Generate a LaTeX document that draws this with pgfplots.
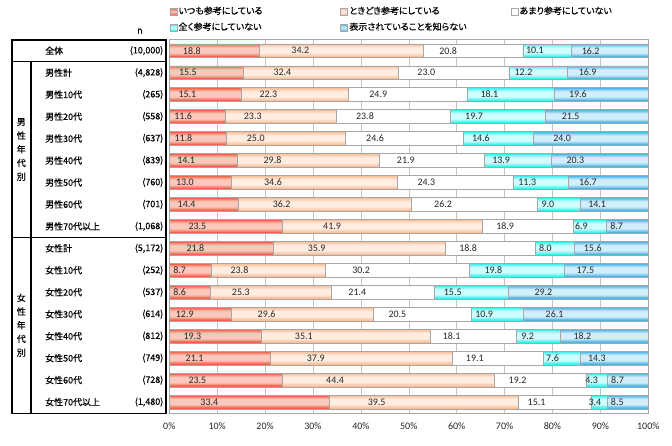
\documentclass[border=0pt]{standalone}
\usepackage{pgfplots}
\pgfplotsset{compat=1.18}
\usepackage{pgfplotstable}
\usepackage{fontspec}
\setmainfont{Carlito}
\newfontfamily\jp[FakeBold=0.5]{Noto Sans CJK JP}
\newfontfamily\jpp[RawFeature=+palt,FakeBold=0.4]{Noto Sans CJK JP}
\definecolor{redE}{HTML}{EE6445}
\definecolor{redM}{HTML}{FAC8BC}
\definecolor{pchE}{HTML}{F9C09A}
\definecolor{pchM}{HTML}{FFEDE1}
\definecolor{cyE}{HTML}{3EEEF2}
\definecolor{cyM}{HTML}{CFFEFE}
\definecolor{blE}{HTML}{4AB6EA}
\definecolor{blM}{HTML}{D3EEFB}
\definecolor{brd}{HTML}{A6A6A6}
\definecolor{grd}{HTML}{C4C4C4}
\definecolor{txt}{HTML}{262626}

\pgfplotstableread{
row a b c d e
0 18.8 34.2 20.8 10.1 16.2
1 15.5 32.4 23.0 12.2 16.9
2 15.1 22.3 24.9 18.1 19.6
3 11.6 23.3 23.8 19.7 21.5
4 11.8 25.0 24.6 14.6 24.0
5 14.1 29.8 21.9 13.9 20.3
6 13.0 34.6 24.3 11.3 16.7
7 14.4 36.2 26.2 9.0 14.1
8 23.5 41.9 18.9 6.9 8.7
9 21.8 35.9 18.8 8.0 15.6
10 8.7 23.8 30.2 19.8 17.5
11 8.6 25.3 21.4 15.5 29.2
12 12.9 29.6 20.5 10.9 26.1
13 19.3 35.1 18.1 9.2 18.2
14 21.1 37.9 19.1 7.6 14.3
15 23.5 44.4 19.2 4.3 8.7
16 33.4 39.5 15.1 3.4 8.5
}\datatable

\pgfplotsset{
  /pgf/number format/assume math mode=true,
  base/.style={at={(169.3bp,-39.7bp)}, anchor=north west,
    scale only axis, width=479.48bp, height=373.3bp,
    xbar stacked, xmin=0, xmax=100.1, ymin=-0.5, ymax=16.5, y dir=reverse},
  leg/.style={legend cell align=left,
    legend style={at={(#1,1.088)}, anchor=north west, draw=none, fill=none,
    inner sep=0pt, row sep=7bp,
    nodes={font=\jpp\fontsize{9}{10}\selectfont, inner xsep=1.5bp, inner ysep=0pt,
      text height=7bp, text depth=2bp}}},
  sqleg/.style={legend image code/.code={\draw[draw=brd,line width=0.5bp,
     top color=#1E, bottom color=#1E, middle color=#1M] (0bp,-3.5bp) rectangle (7bp,3.5bp);}},
  wleg/.style={legend image code/.code={\draw[draw=brd,line width=0.5bp,fill=white] (0bp,-3.5bp) rectangle (7bp,3.5bp);}},
  lab/.style={visualization depends on={\thisrow{#1} \as \val},
    nodes near coords={\pgfmathprintnumber[fixed,fixed zerofill,precision=1]{\val}},
    every node near coord/.style={anchor=center, xshift={-\val*1.1975bp},
      font=\fontsize{10}{11}\selectfont, text=txt, inner sep=0pt}},
}
\newcommand\layer[3]{%
\begin{axis}[base, hide axis, bar width=#1, #3]
\addplot[fill=redM!#2!redE, draw=none, forget plot] table[x=a,y=row]\datatable;
\addplot[fill=pchM!#2!pchE, draw=none, forget plot] table[x=b,y=row]\datatable;
\addplot[fill=none, draw=none, forget plot] table[x=c,y=row]\datatable;
\addplot[fill=cyM!#2!cyE, draw=none, forget plot] table[x=d,y=row]\datatable;
\addplot[fill=blM!#2!blE, draw=none, forget plot] table[x=e,y=row]\datatable;
}

\begin{document}
\begin{tikzpicture}
\path[use as bounding box] (0,0) rectangle (672bp,-446bp);
\begin{axis}[base, bar width=0.62,
  ytick=\empty,
  xtick={0,10,...,100},
  xticklabel={\pgfmathprintnumber{\tick}\%},
  xmajorgrids, grid style={grd, line width=0.6bp},
  axis line style={brd, line width=0.8bp},
  major tick length=0,
  tick label style={font=\fontsize{10}{11}\selectfont, text=txt},
  xticklabel style={yshift=-6bp},
  leg=0,
]
\addplot[fill=redE, draw=none, forget plot] table[x=a,y=row]\datatable;
\addplot[fill=pchE, draw=none, forget plot] table[x=b,y=row]\datatable;
\addplot[fill=white, draw=none, forget plot] table[x=c,y=row]\datatable;
\addplot[fill=cyE, draw=none, forget plot] table[x=d,y=row]\datatable;
\addplot[fill=blE, draw=none, forget plot] table[x=e,y=row]\datatable;
\addlegendimage{sqleg=red}
\addlegendentry{いつも参考にしている}
\addlegendimage{sqleg=cy}
\addlegendentry{全く参考にしていない}
\end{axis}
\layer{0.50}{30}{leg=0.3564}
\addlegendimage{sqleg=pch}
\addlegendentry{ときどき参考にしている}
\addlegendimage{sqleg=bl}
\addlegendentry{表示されていることを知らない}
\end{axis}
\layer{0.42}{55}{leg=0.7113}
\addlegendimage{wleg}
\addlegendentry{あまり参考にしていない}
\end{axis}
\layer{0.34}{80}{}
\end{axis}
\layer{0.26}{100}{}
\end{axis}
\begin{axis}[base, bar width=0.62, xtick=\empty, ytick=\empty,
  axis line style={brd, line width=0.8bp}]
\addplot[fill=none, draw=brd, line width=0.6bp, lab=a] table[x=a,y=row]\datatable;
\addplot[fill=none, draw=brd, line width=0.6bp, lab=b] table[x=b,y=row]\datatable;
\addplot[fill=none, draw=brd, line width=0.6bp, lab=c] table[x=c,y=row]\datatable;
\addplot[fill=none, draw=brd, line width=0.6bp, lab=d] table[x=d,y=row]\datatable;
\addplot[fill=none, draw=brd, line width=0.6bp, lab=e] table[x=e,y=row]\datatable;
\end{axis}
\begin{scope}[x=1bp,y=-1bp, font=\jp\fontsize{9}{10}\selectfont]
\draw[line width=1.6bp] (11.7,39.7) rectangle (166,413.5);
\draw[line width=1.2bp] (11.7,61.66) -- (166,61.66);
\draw[line width=1.2bp] (11.7,237.3) -- (166,237.3);
\draw[line width=1.2bp] (31,61.66) -- (31,413.5);
\foreach \i/\nm/\n in {0/全体/{(10,000)},1/男性計/{(4,828)},2/男性10代/{(265)},3/男性20代/{(558)},
  4/男性30代/{(637)},5/男性40代/{(839)},6/男性50代/{(760)},7/男性60代/{(701)},8/男性70代以上/{(1,068)},
  9/女性計/{(5,172)},10/女性10代/{(252)},11/女性20代/{(537)},12/女性30代/{(614)},13/女性40代/{(812)},
  14/女性50代/{(749)},15/女性60代/{(728)},16/女性70代以上/{(1,480)}}{
  \node[anchor=west, inner sep=0pt] at (45, 39.7+21.96*\i+10.98) {\nm};
  \node[anchor=east, inner sep=0pt] at (163.5, 39.7+21.96*\i+10.98) {\n};
}
\node[align=center, font=\jp\fontsize{9}{13.75}\selectfont] at (21.3,149.5) {男\\性\\年\\代\\別};
\node[align=center, font=\jp\fontsize{9}{13.75}\selectfont] at (21.3,325.2) {女\\性\\年\\代\\別};
\node[inner sep=0pt] at (140,31) {n};
\end{scope}
\end{tikzpicture}
\end{document}
